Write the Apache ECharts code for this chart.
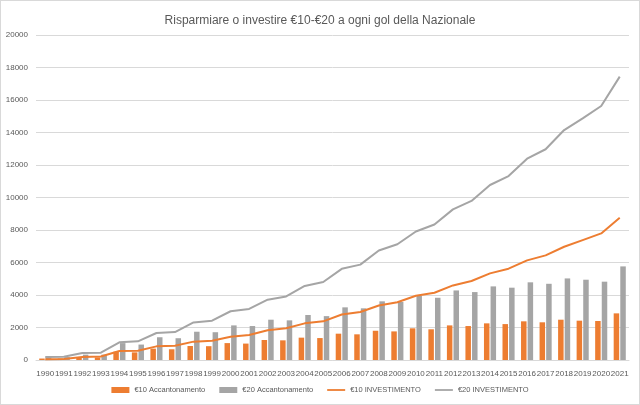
<!DOCTYPE html>
<html>
<head>
<meta charset="utf-8">
<script src="https://cdn.jsdelivr.net/npm/echarts@6/dist/echarts.min.js"></script>
<style>
  html, body { margin: 0; padding: 0; background: #fff; }
  #chart { width: 638px; height: 403px; border: 1px solid #d9d9d9; }
</style>
</head>
<body>
<div id="chart"></div>
<script>
// anni
const years = ['1990','1991','1992','1993','1994','1995','1996','1997','1998','1999',
  '2000','2001','2002','2003','2004','2005','2006','2007','2008','2009',
  '2010','2011','2012','2013','2014','2015','2016','2017','2018','2019','2020','2021'];

// accantonamento (barre)
const acc10 = [90, 90, 160, 160, 510, 470, 700, 660, 860, 850,
  1040, 1010, 1230, 1210, 1375, 1350, 1620, 1580, 1800, 1760,
  1950, 1890, 2130, 2090, 2255, 2210, 2380, 2320, 2480, 2420, 2400, 2870];
const acc20 = [180, 180, 330, 330, 1040, 950, 1400, 1340, 1740, 1710,
  2130, 2090, 2480, 2440, 2770, 2700, 3240, 3180, 3610, 3570,
  3940, 3830, 4280, 4180, 4530, 4450, 4780, 4690, 5020, 4940, 4820, 5760];

// investimento (linee)
const inv10 = [50, 60, 190, 220, 550, 575, 840, 880, 1130, 1190,
  1430, 1540, 1825, 1950, 2255, 2380, 2800, 2950, 3350, 3550,
  3950, 4140, 4590, 4860, 5330, 5620, 6130, 6440, 6970, 7380, 7790, 8750];
const inv20 = [190, 200, 430, 450, 1090, 1150, 1660, 1720, 2310, 2420,
  3000, 3140, 3710, 3910, 4560, 4800, 5610, 5870, 6740, 7120,
  7910, 8340, 9270, 9790, 10770, 11320, 12390, 12970, 14150, 14870, 15630, 17440];

const orange = '#ED7D31';
const grey = '#A5A5A5';
const txt = '#595959';
const font = '"Liberation Sans", sans-serif';

let chart = echarts.init(document.getElementById('chart'));
let option = {
  animation: false,
  textStyle: { fontFamily: font },
  title: {
    text: 'Risparmiare o investire €10-€20 a ogni gol della Nazionale',
    left: 'center',
    top: 9,
    textStyle: { fontSize: 12, fontWeight: 'normal', color: txt, fontFamily: font }
  },
  legend: {
    bottom: 5,
    left: 'center',
    itemWidth: 18,
    itemHeight: 6,
    itemGap: 14,
    textStyle: { fontSize: 7.5, color: txt, fontFamily: font },
    data: [
      { name: '€10 Accantonamento', icon: 'rect' },
      { name: '€20 Accantonamento', icon: 'rect' },
      { name: '€10 INVESTIMENTO', icon: 'path://M0,0 L20,0 L20,2 L0,2 Z' },
      { name: '€20 INVESTIMENTO', icon: 'path://M0,0 L20,0 L20,2 L0,2 Z' }
    ]
  },
  grid: { left: 35, right: 10, top: 34, bottom: 44 },
  xAxis: {
    type: 'category',
    data: years,
    axisLine: { show: true, lineStyle: { color: '#d9d9d9' } },
    axisTick: { show: false },
    axisLabel: { interval: 0, fontSize: 8, color: txt, margin: 10, fontFamily: font }
  },
  yAxis: {
    type: 'value',
    min: 0,
    max: 20000,
    interval: 2000,
    axisLine: { show: false },
    axisTick: { show: false },
    axisLabel: { fontSize: 8, color: txt, margin: 8, fontFamily: font, formatter: v => String(v) },
    splitLine: { lineStyle: { color: '#d9d9d9', width: 1 } }
  },
  series: [
    { name: '€10 Accantonamento', type: 'bar', data: acc10, barWidth: 5.5, barGap: '20%',
      itemStyle: { color: orange } },
    { name: '€20 Accantonamento', type: 'bar', data: acc20, barWidth: 5.5, barGap: '20%',
      itemStyle: { color: grey } },
    { name: '€10 INVESTIMENTO', type: 'line', data: inv10, showSymbol: false, symbol: 'none',
      lineStyle: { color: orange, width: 2 }, itemStyle: { color: orange } },
    { name: '€20 INVESTIMENTO', type: 'line', data: inv20, showSymbol: false, symbol: 'none',
      lineStyle: { color: grey, width: 2 }, itemStyle: { color: grey } }
  ]
};
chart.setOption(option);
</script>
</body>
</html>
